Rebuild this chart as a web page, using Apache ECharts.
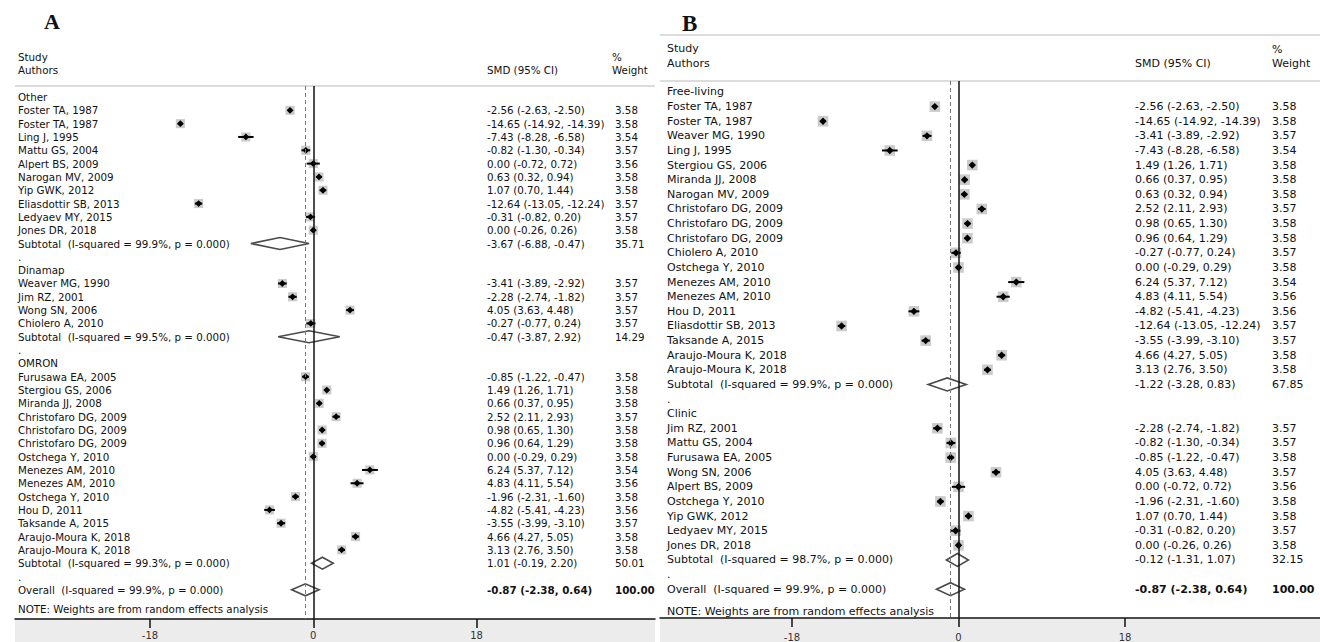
<!DOCTYPE html>
<html>
<head>
<meta charset="utf-8">
<script src="https://cdn.jsdelivr.net/npm/echarts@6/dist/echarts.min.js"></script>
<style>
  html, body { margin: 0; padding: 0; background: #fff; }
  #chart { width: 1320px; height: 642px; }
</style>
</head>
<body>
<div id="chart"></div>
<script>
const FONT = '"DejaVu Sans", Verdana, sans-serif';
const xTicks = [-18, 0, 18];
const noteText = 'NOTE: Weights are from random effects analysis';

// ---------- Panel A: subgroups by device ----------
const groupNamesA = ['Other', 'Dinamap', 'OMRON'];
const authorsA = [
  'Foster TA, 1987', 'Foster TA, 1987', 'Ling J, 1995', 'Mattu GS, 2004', 'Alpert BS, 2009',
  'Narogan MV, 2009', 'Yip GWK, 2012', 'Eliasdottir SB, 2013', 'Ledyaev MY, 2015', 'Jones DR, 2018',
  'Weaver MG, 1990', 'Jim RZ, 2001', 'Wong SN, 2006', 'Chiolero A, 2010',
  'Furusawa EA, 2005', 'Stergiou GS, 2006', 'Miranda JJ, 2008', 'Christofaro DG, 2009',
  'Christofaro DG, 2009', 'Christofaro DG, 2009', 'Ostchega Y, 2010', 'Menezes AM, 2010',
  'Menezes AM, 2010', 'Ostchega Y, 2010', 'Hou D, 2011', 'Taksande A, 2015',
  'Araujo-Moura K, 2018', 'Araujo-Moura K, 2018'
];
const groupOfA = [0,0,0,0,0,0,0,0,0,0, 1,1,1,1, 2,2,2,2,2,2,2,2,2,2,2,2,2,2];
const smdA = [-2.56, -14.65, -7.43, -0.82, 0.00, 0.63, 1.07, -12.64, -0.31, 0.00,
  -3.41, -2.28, 4.05, -0.27,
  -0.85, 1.49, 0.66, 2.52, 0.98, 0.96, 0.00, 6.24, 4.83, -1.96, -4.82, -3.55, 4.66, 3.13];
const lowA = [-2.63, -14.92, -8.28, -1.30, -0.72, 0.32, 0.70, -13.05, -0.82, -0.26,
  -3.89, -2.74, 3.63, -0.77,
  -1.22, 1.26, 0.37, 2.11, 0.65, 0.64, -0.29, 5.37, 4.11, -2.31, -5.41, -3.99, 4.27, 2.76];
const highA = [-2.50, -14.39, -6.58, -0.34, 0.72, 0.94, 1.44, -12.24, 0.20, 0.26,
  -2.92, -1.82, 4.48, 0.24,
  -0.47, 1.71, 0.95, 2.93, 1.30, 1.29, 0.29, 7.12, 5.54, -1.60, -4.23, -3.10, 5.05, 3.50];
const weightA = [3.58, 3.58, 3.54, 3.57, 3.56, 3.58, 3.58, 3.57, 3.57, 3.58,
  3.57, 3.57, 3.57, 3.57,
  3.58, 3.58, 3.58, 3.57, 3.58, 3.58, 3.58, 3.54, 3.56, 3.58, 3.56, 3.57, 3.58, 3.58];
const subI2A = ['99.9%', '99.5%', '99.3%'];
const subSmdA = [-3.67, -0.47, 1.01];
const subLowA = [-6.88, -3.87, -0.19];
const subHighA = [-0.47, 2.92, 2.20];
const subWeightA = [35.71, 14.29, 50.01];

// ---------- Panel B: subgroups by setting ----------
const groupNamesB = ['Free-living', 'Clinic'];
const authorsB = [
  'Foster TA, 1987', 'Foster TA, 1987', 'Weaver MG, 1990', 'Ling J, 1995', 'Stergiou GS, 2006',
  'Miranda JJ, 2008', 'Narogan MV, 2009', 'Christofaro DG, 2009', 'Christofaro DG, 2009',
  'Christofaro DG, 2009', 'Chiolero A, 2010', 'Ostchega Y, 2010', 'Menezes AM, 2010',
  'Menezes AM, 2010', 'Hou D, 2011', 'Eliasdottir SB, 2013', 'Taksande A, 2015',
  'Araujo-Moura K, 2018', 'Araujo-Moura K, 2018',
  'Jim RZ, 2001', 'Mattu GS, 2004', 'Furusawa EA, 2005', 'Wong SN, 2006', 'Alpert BS, 2009',
  'Ostchega Y, 2010', 'Yip GWK, 2012', 'Ledyaev MY, 2015', 'Jones DR, 2018'
];
const groupOfB = [0,0,0,0,0,0,0,0,0,0,0,0,0,0,0,0,0,0,0, 1,1,1,1,1,1,1,1,1];
const smdB = [-2.56, -14.65, -3.41, -7.43, 1.49, 0.66, 0.63, 2.52, 0.98, 0.96, -0.27, 0.00,
  6.24, 4.83, -4.82, -12.64, -3.55, 4.66, 3.13,
  -2.28, -0.82, -0.85, 4.05, 0.00, -1.96, 1.07, -0.31, 0.00];
const lowB = [-2.63, -14.92, -3.89, -8.28, 1.26, 0.37, 0.32, 2.11, 0.65, 0.64, -0.77, -0.29,
  5.37, 4.11, -5.41, -13.05, -3.99, 4.27, 2.76,
  -2.74, -1.30, -1.22, 3.63, -0.72, -2.31, 0.70, -0.82, -0.26];
const highB = [-2.50, -14.39, -2.92, -6.58, 1.71, 0.95, 0.94, 2.93, 1.30, 1.29, 0.24, 0.29,
  7.12, 5.54, -4.23, -12.24, -3.10, 5.05, 3.50,
  -1.82, -0.34, -0.47, 4.48, 0.72, -1.60, 1.44, 0.20, 0.26];
const weightB = [3.58, 3.58, 3.57, 3.54, 3.58, 3.58, 3.58, 3.57, 3.58, 3.58, 3.57, 3.58,
  3.54, 3.56, 3.56, 3.57, 3.57, 3.58, 3.58,
  3.57, 3.57, 3.58, 3.57, 3.56, 3.58, 3.58, 3.57, 3.58];
const subI2B = ['99.9%', '98.7%'];
const subSmdB = [-1.22, -0.12];
const subLowB = [-3.28, -1.31];
const subHighB = [0.83, 1.07];
const subWeightB = [67.85, 32.15];

// ---------- Pooled estimate (both panels) ----------
const overallI2 = '99.9%';
const overallSmd = -0.87;
const overallLow = -2.38;
const overallHigh = 0.64;
const overallWeight = 100.00;

const f2 = v => v.toFixed(2);
const ciText = (m, l, h) => f2(m) + ' (' + f2(l) + ', ' + f2(h) + ')';
const hetText = (name, i2) => name + '\u00a0 (I-squared = ' + i2 + ', p = 0.000)';

// Lay out the rows of one forest plot: group header, studies, subtotal, spacer; then overall and note.
function buildRows(groupNames, authors, groupOf, smd, low, high, weight,
                   subI2, subSmd, subLow, subHigh, subWeight, noteGap) {
  const rows = [];
  let r = 0;
  groupNames.forEach((g, gi) => {
    rows.push({ r: r++, label: g });
    authors.forEach((a, i) => {
      if (groupOf[i] !== gi) return;
      rows.push({ r: r++, label: a, kind: 0, m: smd[i], l: low[i], h: high[i], w: weight[i] });
    });
    rows.push({ r: r++, label: hetText('Subtotal', subI2[gi]), kind: 1,
      m: subSmd[gi], l: subLow[gi], h: subHigh[gi], w: subWeight[gi] });
    rows.push({ r: r++, label: '.' });
  });
  const ovR = r;
  rows.push({ r: ovR, label: hetText('Overall', overallI2), kind: 1, bold: true,
    m: overallSmd, l: overallLow, h: overallHigh, w: overallWeight });
  rows.push({ r: ovR + noteGap, label: noteText });
  rows.forEach(row => {
    if (row.kind != null) {
      row.smdText = ciText(row.m, row.l, row.h);
      row.wText = f2(row.w);
    }
  });
  return rows;
}

const rowsA = buildRows(groupNamesA, authorsA, groupOfA, smdA, lowA, highA, weightA,
  subI2A, subSmdA, subLowA, subHighA, subWeightA, 1.45);
const rowsB = buildRows(groupNamesB, authorsB, groupOfB, smdB, lowB, highB, weightB,
  subI2B, subSmdB, subLowB, subHighB, subWeightB, 1.5);

function markRenderer(cfg) {
  return function (params, api) {
    const r = api.value(1);
    const y = api.coord([0, r])[1];
    const xm = api.coord([api.value(0), r])[0];
    const xl = api.coord([api.value(2), r])[0];
    const xh = api.coord([api.value(3), r])[0];
    if (api.value(5) === 0) {
      const half = Math.sqrt(api.value(4)) * cfg.boxScale;
      const d = cfg.dot;
      return { type: 'group', children: [
        { type: 'rect', shape: { x: xm - half, y: y - half, width: 2 * half, height: 2 * half },
          style: { fill: '#cbcbcb' } },
        { type: 'line', shape: { x1: xl, y1: y, x2: xh, y2: y },
          style: { stroke: '#000', lineWidth: cfg.ciWidth } },
        { type: 'polygon', shape: { points: [[xm - d, y], [xm, y - d], [xm + d, y], [xm, y + d]] },
          style: { fill: '#000' } }
      ] };
    }
    const hh = cfg.diamondH;
    return { type: 'polygon',
      shape: { points: [[xl, y], [xm, y - hh], [xh, y], [xm, y + hh]] },
      style: { fill: 'none', stroke: '#4a4a4a', lineWidth: 1.6 } };
  };
}

function textRenderer(rows, cfg) {
  return function (params, api) {
    const row = rows[params.dataIndex];
    const y = api.coord([0, api.value(1)])[1];
    const mk = (text, x, bold) => ({ type: 'text', style: {
      text: text, x: x, y: y, fill: '#111',
      font: (bold ? 'bold ' : '') + cfg.size + 'px ' + FONT,
      align: 'left', verticalAlign: 'middle', textAlign: 'left', textVerticalAlign: 'middle' } });
    const kids = [mk(row.label, cfg.xLabel, false)];
    if (row.smdText) {
      kids.push(mk(row.smdText, cfg.xSmd, row.bold));
      kids.push(mk(row.wText, cfg.xW, row.bold));
    }
    return { type: 'group', children: kids };
  };
}

const cfgA = { size: 10.3, xLabel: 18, xSmd: 487, xW: 615, boxScale: 2.4, dot: 3.4, ciWidth: 2, diamondH: 6 };
const cfgB = { size: 11, xLabel: 667, xSmd: 1135, xW: 1272, boxScale: 2.8, dot: 3.7, ciWidth: 2, diamondH: 6.5 };

function refLines(width) {
  return {
    silent: true, symbol: 'none', label: { show: false },
    data: [
      { xAxis: 0, lineStyle: { color: '#111', width: width, type: 'solid' } },
      { xAxis: overallSmd, lineStyle: { color: '#777', width: 1, type: [4, 3] } }
    ]
  };
}

function xAxisFor(gridIndex, min, max, labelMargin) {
  return {
    type: 'value', gridIndex: gridIndex, min: min, max: max, position: 'bottom',
    axisLine: { show: true, onZero: false, lineStyle: { color: '#111', width: 1.5 } },
    axisTick: { show: true, length: 9, customValues: xTicks, lineStyle: { color: '#111', width: 1.5 } },
    axisLabel: { customValues: xTicks, margin: labelMargin, color: '#333', fontSize: 10, fontFamily: FONT },
    splitLine: { show: false }
  };
}

function header(x, y, text, size) {
  return { type: 'text', x: x, y: y, style: { text: text, fill: '#111',
    font: size + 'px ' + FONT, textVerticalAlign: 'middle', verticalAlign: 'middle' } };
}
function hline(x1, x2, y) {
  return { type: 'line', shape: { x1: x1, y1: y, x2: x2, y2: y },
    style: { stroke: '#dcdcdc', lineWidth: 2 } };
}

const chart = echarts.init(document.getElementById('chart'), null, { renderer: 'svg' });
chart.setOption({
  animation: false,
  backgroundColor: '#fff',
  grid: [
    { left: 15, right: 665, top: 86, bottom: 23 },
    { left: 660, right: 0, top: 81, bottom: 23 }
  ],
  xAxis: [
    xAxisFor(0, -32.88, 37.67, 11),
    xAxisFor(1, -32.27, 39.08, 14)
  ],
  yAxis: [
    { type: 'value', gridIndex: 0, inverse: true, min: -0.826, max: 39.19, show: false },
    { type: 'value', gridIndex: 1, inverse: true, min: -0.75, max: 35.97, show: false }
  ],
  graphic: [
    { type: 'rect', z: -1, shape: { x: 15, y: 619, width: 640, height: 23 }, style: { fill: '#ececec' } },
    { type: 'rect', z: -1, shape: { x: 660, y: 619, width: 660, height: 23 }, style: { fill: '#ececec' } },
    { type: 'text', x: 44, y: 21, style: { text: 'A', fill: '#111',
      font: 'bold 22px "Liberation Serif", "Times New Roman", serif', verticalAlign: 'middle', textVerticalAlign: 'middle' } },
    { type: 'text', x: 682, y: 23, style: { text: 'B', fill: '#111',
      font: 'bold 23px "Liberation Serif", "Times New Roman", serif', verticalAlign: 'middle', textVerticalAlign: 'middle' } },
    header(18, 57, 'Study', 10.3), header(18, 70, 'Authors', 10.3),
    header(487, 70, 'SMD (95% CI)', 10.3), header(612, 57, '%', 10.3), header(612, 70, 'Weight', 10.3),
    hline(15, 655, 86),
    header(667, 48, 'Study', 11), header(667, 63, 'Authors', 11),
    header(1135, 63, 'SMD (95% CI)', 11), header(1272, 49, '%', 11), header(1272, 63, 'Weight', 11),
    hline(660, 1320, 35), hline(660, 1320, 81)
  ],
  series: [
    { type: 'custom', xAxisIndex: 0, yAxisIndex: 0, silent: true, clip: false,
      renderItem: markRenderer(cfgA),
      data: rowsA.filter(d => d.kind != null).map(d => [d.m, d.r, d.l, d.h, d.w, d.kind]),
      markLine: refLines(1.5) },
    { type: 'custom', xAxisIndex: 0, yAxisIndex: 0, silent: true, clip: false,
      renderItem: textRenderer(rowsA, cfgA),
      data: rowsA.map(d => [0, d.r]) },
    { type: 'custom', xAxisIndex: 1, yAxisIndex: 1, silent: true, clip: false,
      renderItem: markRenderer(cfgB),
      data: rowsB.filter(d => d.kind != null).map(d => [d.m, d.r, d.l, d.h, d.w, d.kind]),
      markLine: refLines(1.5) },
    { type: 'custom', xAxisIndex: 1, yAxisIndex: 1, silent: true, clip: false,
      renderItem: textRenderer(rowsB, cfgB),
      data: rowsB.map(d => [0, d.r]) }
  ]
});
</script>
</body>
</html>
